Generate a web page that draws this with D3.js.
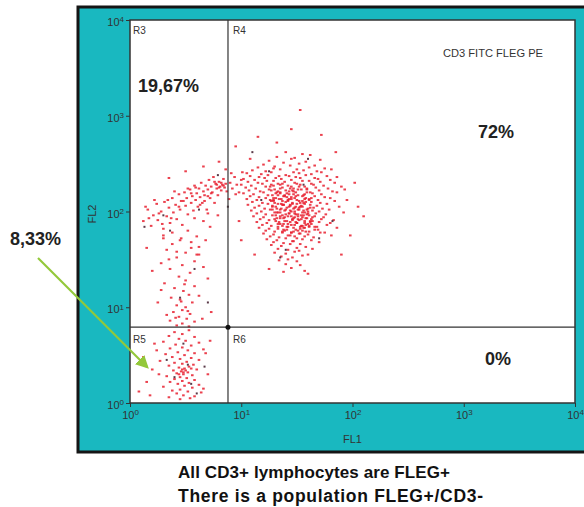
<!DOCTYPE html>
<html>
<head>
<meta charset="utf-8">
<script src="https://cdn.jsdelivr.net/npm/d3@7"></script>
<style>
  body { margin: 0; background: #fff; }
  svg { display: block; font-family: "Liberation Sans", Arial, sans-serif; }
</style>
</head>
<body>
<svg width="584" height="507"></svg>
<script>
// Axis ticks (both channels, log decades)
const tickValues = [1, 10, 100, 1000, 10000];

// Quadrant gate thresholds (FL1 / FL2)
const gateFL1 = 7.6;
const gateFL2 = 6.2;

// Region labels and percentages
const regionNames = ["R3", "R4", "R5", "R6"];
const regionPercents = ["19,67%", "72%", "8,33%", "0%"];

// Events as [log10 FL1, log10 FL2]
const r4Events = [
  [1.40,2.62],[1.55,2.60],[1.32,2.57],[1.62,2.59],[1.48,2.56],
  [1.25,2.53],[1.45,2.55],[1.58,2.52],[1.71,2.54],
  [1.20,2.49],[1.38,2.51],[1.52,2.50],[1.66,2.48],[1.30,2.47],
  [1.15,2.46],[1.29,2.45],[1.44,2.48],[1.61,2.46],[1.75,2.45],[1.50,2.44],
  [1.10,2.43],[1.22,2.42],[1.35,2.44],[1.47,2.41],[1.56,2.43],[1.68,2.42],[1.81,2.44],
  [1.05,2.40],[1.18,2.39],[1.27,2.41],[1.40,2.38],[1.52,2.40],[1.63,2.39],[1.72,2.41],[1.34,2.37],
  [1.08,2.37],[1.16,2.36],[1.24,2.38],[1.31,2.35],[1.43,2.37],[1.49,2.36],[1.58,2.38],[1.66,2.35],[1.77,2.37],[1.86,2.36],
  [1.02,2.34],[1.12,2.33],[1.21,2.35],[1.29,2.32],[1.36,2.34],[1.45,2.33],[1.53,2.35],[1.61,2.32],[1.69,2.34],[1.80,2.33],
  [1.06,2.31],[1.15,2.30],[1.23,2.32],[1.33,2.29],[1.39,2.31],[1.48,2.30],[1.55,2.32],[1.63,2.29],[1.71,2.31],[1.84,2.30],[1.27,2.28],
  [1.00,2.28],[1.09,2.27],[1.19,2.29],[1.26,2.26],[1.35,2.28],[1.42,2.27],[1.50,2.29],[1.57,2.26],[1.65,2.28],[1.74,2.27],[1.90,2.26],
  [1.04,2.25],[1.13,2.24],[1.22,2.26],[1.30,2.23],[1.37,2.25],[1.44,2.24],[1.52,2.26],[1.59,2.23],[1.67,2.25],[1.78,2.24],[1.46,2.22],[1.33,2.21],
  [1.07,2.22],[1.17,2.21],[1.25,2.23],[1.32,2.20],[1.40,2.22],[1.47,2.21],[1.54,2.23],[1.62,2.20],[1.70,2.22],[1.82,2.21],[1.93,2.23],
  [1.02,2.19],[1.11,2.18],[1.20,2.20],[1.28,2.17],[1.35,2.19],[1.43,2.18],[1.49,2.20],[1.56,2.17],[1.64,2.19],[1.72,2.18],[1.86,2.20],[1.38,2.16],
  [1.08,2.16],[1.16,2.15],[1.24,2.17],[1.31,2.14],[1.39,2.16],[1.45,2.15],[1.51,2.17],[1.58,2.14],[1.66,2.16],[1.75,2.15],[1.43,2.13],[1.29,2.12],
  [1.05,2.13],[1.14,2.12],[1.22,2.14],[1.29,2.11],[1.36,2.13],[1.42,2.12],[1.48,2.14],[1.55,2.11],[1.61,2.13],[1.69,2.12],[1.80,2.14],[1.95,2.12],
  [1.10,2.10],[1.19,2.09],[1.27,2.11],[1.33,2.08],[1.40,2.10],[1.46,2.09],[1.52,2.11],[1.57,2.08],[1.63,2.10],[1.71,2.09],[1.84,2.11],[1.37,2.07],
  [1.06,2.07],[1.16,2.06],[1.24,2.08],[1.31,2.05],[1.38,2.07],[1.44,2.06],[1.50,2.08],[1.55,2.05],[1.62,2.07],[1.68,2.06],[1.77,2.08],[1.48,2.04],
  [1.12,2.04],[1.21,2.03],[1.28,2.05],[1.35,2.02],[1.41,2.04],[1.47,2.03],[1.53,2.05],[1.59,2.02],[1.65,2.04],[1.73,2.03],[1.88,2.05],[1.56,2.01],
  [1.09,2.01],[1.18,2.00],[1.26,2.02],[1.33,1.99],[1.39,2.01],[1.45,2.00],[1.51,2.02],[1.57,1.99],[1.64,2.01],[1.70,2.00],[1.79,2.02],[1.60,1.98],
  [1.14,1.98],[1.22,1.97],[1.30,1.99],[1.37,1.96],[1.43,1.98],[1.49,1.97],[1.55,1.99],[1.61,1.96],[1.67,1.98],[1.76,1.97],[1.92,1.99],
  [1.11,1.95],[1.20,1.94],[1.28,1.96],[1.35,1.93],[1.42,1.95],[1.48,1.94],[1.54,1.96],[1.59,1.93],[1.66,1.95],[1.74,1.94],[1.51,1.92],
  [1.17,1.92],[1.25,1.91],[1.32,1.93],[1.39,1.90],[1.46,1.92],[1.52,1.91],[1.58,1.93],[1.64,1.90],[1.72,1.92],[1.83,1.91],[1.62,1.89],
  [1.14,1.89],[1.23,1.88],[1.31,1.90],[1.38,1.87],[1.44,1.89],[1.50,1.88],[1.57,1.90],[1.63,1.87],[1.70,1.89],[1.80,1.88],
  [1.19,1.86],[1.27,1.85],[1.35,1.87],[1.42,1.84],[1.48,1.86],[1.54,1.85],[1.60,1.87],[1.68,1.84],[1.77,1.86],[1.56,1.83],
  [1.16,1.83],[1.25,1.82],[1.33,1.84],[1.41,1.81],[1.47,1.83],[1.53,1.82],[1.61,1.84],[1.69,1.81],[1.86,1.83],
  [1.22,1.80],[1.30,1.79],[1.38,1.81],[1.45,1.78],[1.51,1.80],[1.58,1.79],[1.66,1.81],[1.75,1.78],
  [1.20,1.77],[1.29,1.76],[1.37,1.78],[1.44,1.75],[1.52,1.77],[1.60,1.76],[1.71,1.78],[1.48,1.74],
  [1.26,1.74],[1.34,1.73],[1.42,1.75],[1.50,1.72],[1.57,1.74],[1.65,1.73],[1.81,1.75],
  [1.23,1.71],[1.32,1.70],[1.40,1.72],[1.47,1.69],[1.55,1.71],[1.63,1.70],
  [1.29,1.68],[1.38,1.67],[1.46,1.69],[1.53,1.66],[1.70,1.68],
  [1.27,1.65],[1.36,1.64],[1.44,1.66],[1.58,1.63],[1.50,1.62],
  [1.33,1.61],[1.42,1.60],[1.52,1.59],[1.64,1.61],
  [1.30,1.57],[1.40,1.56],[1.48,1.58],[1.60,1.55],
  [1.36,1.53],[1.46,1.52],[1.55,1.54],
  [1.34,1.49],[1.50,1.48],[1.42,1.50],
  [1.40,1.45],[1.53,1.44],[1.45,1.41],[1.38,1.37],[1.57,1.38],
  // dense core
  [1.27,2.22],[1.31,2.19],[1.35,2.24],[1.39,2.17],[1.43,2.21],[1.47,2.18],[1.51,2.23],[1.55,2.16],[1.59,2.20],[1.63,2.14],
  [1.26,2.12],[1.30,2.09],[1.34,2.13],[1.38,2.07],[1.42,2.11],[1.46,2.08],[1.50,2.12],[1.54,2.06],[1.58,2.10],[1.62,2.04],
  [1.28,2.02],[1.32,1.99],[1.36,2.03],[1.40,1.97],[1.44,2.01],[1.48,1.98],[1.52,2.02],[1.56,1.96],[1.60,2.00],[1.64,1.94],
  [1.30,1.92],[1.34,1.89],[1.38,1.93],[1.42,1.87],[1.46,1.91],[1.50,1.88],[1.54,1.92],[1.58,1.86],[1.62,1.90],[1.66,1.84],
  [1.33,1.82],[1.37,1.79],[1.41,1.84],[1.45,1.78],[1.49,1.81],[1.53,1.77],[1.57,1.83],[1.61,1.79],
  [1.29,2.27],[1.37,2.29],[1.45,2.26],[1.53,2.28],[1.41,2.15],[1.49,2.05],[1.45,1.95],[1.55,1.85],[1.35,1.95],[1.57,2.13],
  [1.29,2.14],[1.33,2.17],[1.37,2.11],[1.41,2.19],[1.45,2.13],[1.49,2.16],[1.53,2.09],[1.57,2.18],[1.61,2.12],
  [1.28,2.06],[1.32,2.03],[1.36,2.08],[1.40,2.02],[1.44,2.07],[1.48,2.00],[1.52,2.04],[1.56,2.09],[1.60,2.03],
  [1.31,1.96],[1.35,1.99],[1.39,1.94],[1.43,1.98],[1.47,1.93],[1.51,1.97],[1.55,1.94],[1.59,1.97],[1.63,1.92],
  [1.33,1.87],[1.37,1.85],[1.41,1.90],[1.45,1.86],[1.49,1.89],[1.53,1.84],[1.57,1.88],[1.61,1.85],
  [1.39,1.80],[1.47,1.79],[1.55,1.80],[1.43,2.05],[1.51,1.95],[1.35,2.20],[1.47,2.24],[1.59,2.24],
  // bridge to R3 and sparse outliers
  [0.90,2.30],[0.92,2.24],[0.94,2.36],[0.96,2.28],[0.98,2.20],[1.00,2.33],[0.91,2.40],[0.95,2.18],[0.89,2.13],[1.01,2.41],
  [1.15,2.78],[1.32,2.72],[1.53,3.06],[0.95,2.68],[1.45,2.86],[1.72,2.80],[1.08,2.55],[1.85,2.62],[2.02,2.30],[2.05,2.05],
  [1.98,1.75],[1.12,1.55],[1.60,1.35],[1.25,1.40],[0.98,1.90],[1.00,1.70],[1.90,1.55],[2.10,1.95]
];

const r3Events = [
  [0.12,1.90],[0.16,2.02],[0.19,1.85],[0.21,1.96],[0.24,2.08],[0.25,1.91],[0.28,2.00],[0.30,1.82],[0.31,2.10],[0.33,1.95],
  [0.35,2.04],[0.36,1.88],[0.38,2.14],[0.39,1.99],[0.41,2.07],[0.42,1.92],[0.44,2.18],[0.45,2.02],[0.46,2.11],[0.47,1.86],
  [0.49,2.20],[0.50,2.06],[0.51,2.14],[0.52,1.97],[0.54,2.23],[0.55,2.09],[0.56,2.16],[0.57,2.01],[0.58,2.27],[0.59,2.12],
  [0.60,2.19],[0.61,2.05],[0.62,2.24],[0.63,2.15],[0.64,2.30],[0.65,2.09],[0.66,2.21],[0.67,2.17],[0.68,2.27],[0.69,2.02],
  [0.70,2.23],[0.71,2.33],[0.72,2.14],[0.73,2.26],[0.74,2.20],[0.75,2.36],[0.76,2.09],[0.77,2.29],[0.78,2.24],[0.79,2.17],
  [0.80,2.31],[0.81,2.26],[0.82,2.22],[0.83,2.28],[0.84,2.34],[0.85,2.25],[0.86,2.29],[0.87,2.21],[0.84,2.27],[0.82,2.30],
  [0.80,2.25],[0.78,2.28],[0.76,2.31],[0.73,2.19],[0.70,2.16],[0.67,2.11],[0.63,2.07],[0.59,2.25],[0.55,2.19],[0.52,2.24],
  [0.48,2.11],[0.44,2.05],[0.40,2.21],[0.37,1.93],[0.34,2.12],[0.29,1.87],[0.26,1.98],[0.22,2.12],[0.17,1.93],[0.14,2.05],
  [0.30,1.72],[0.38,1.78],[0.45,1.70],[0.52,1.80],[0.60,1.74],[0.66,1.90],[0.72,1.84],[0.79,1.96],[0.55,1.62],[0.42,1.58],
  [0.62,1.55],[0.70,1.98],[0.58,1.93],[0.50,2.42],[0.66,2.47],[0.80,2.52],[0.35,2.35],[0.86,2.44],
  // column down to the gate
  [0.30,1.75],[0.46,1.72],[0.38,1.66],[0.55,1.68],[0.33,1.60],[0.50,1.57],[0.62,1.63],[0.42,1.52],[0.58,1.48],[0.28,1.46],
  [0.47,1.44],[0.36,1.40],[0.54,1.36],[0.66,1.42],[0.44,1.32],[0.50,1.28],[0.31,1.25],[0.58,1.22],[0.40,1.20],[0.48,1.17],
  [0.53,1.13],[0.37,1.10],[0.45,1.08],[0.56,1.05],[0.42,1.02],[0.50,1.00],[0.47,0.97],[0.39,0.95],[0.54,0.93],[0.44,0.90],
  [0.51,0.88],[0.36,0.86],[0.58,0.85],[0.47,0.83],[0.42,0.81],[0.53,0.80],[0.62,1.12],[0.70,1.30],[0.25,1.05],[0.20,1.38],
  [0.15,1.62],[0.73,0.95],[0.65,0.88],[0.33,0.92],[0.49,1.24],[0.46,1.06],[0.52,0.96],[0.41,0.89],[0.60,1.55],[0.35,1.50],
  [0.28,1.18],[0.68,1.70]
];

const r5Events = [
  [0.40,0.74],[0.47,0.72],[0.53,0.76],[0.35,0.70],[0.58,0.69],[0.44,0.67],[0.50,0.65],[0.30,0.64],[0.62,0.63],[0.41,0.61],
  [0.55,0.60],[0.47,0.58],[0.36,0.57],[0.52,0.55],[0.66,0.56],[0.43,0.53],[0.58,0.52],[0.32,0.51],[0.49,0.50],[0.38,0.48],
  [0.55,0.47],[0.45,0.46],[0.62,0.45],[0.27,0.44],[0.51,0.43],[0.40,0.42],[0.47,0.41],[0.57,0.40],[0.35,0.39],[0.53,0.38],
  [0.44,0.37],[0.49,0.36],[0.60,0.35],[0.39,0.34],[0.46,0.33],[0.52,0.32],[0.42,0.31],[0.48,0.30],[0.56,0.29],[0.33,0.28],
  [0.45,0.27],[0.51,0.26],[0.40,0.25],[0.58,0.24],[0.47,0.23],[0.36,0.22],[0.53,0.21],[0.43,0.20],[0.62,0.19],[0.49,0.18],
  [0.30,0.17],[0.56,0.16],[0.45,0.14],[0.38,0.13],[0.52,0.12],[0.64,0.11],[0.42,0.10],[0.48,0.08],[0.58,0.07],[0.35,0.06],
  [0.54,0.05],[0.45,0.04],[0.24,0.55],[0.20,0.35],[0.15,0.22],[0.12,0.48],[0.08,0.12],[0.18,0.08],[0.26,0.30],[0.22,0.62],
  [0.70,0.30],[0.68,0.52],[0.66,0.15],[0.72,0.65],[0.47,0.35],[0.50,0.34],[0.48,0.32],[0.44,0.30],[0.55,0.36]
];

// darker events scattered over the populations
const greyEvents = [
  [0.40,0.27],[0.52,0.40],[0.60,0.10],[0.55,0.20],[0.33,0.45],[0.48,0.62],[0.45,1.10],[0.58,1.40],[0.36,1.80],[0.30,1.96],
  [0.13,1.84],[0.62,2.02],[0.79,2.38],[0.88,2.05],[1.25,2.42],[1.60,2.55],[1.70,1.72],[1.82,1.90],[1.40,1.60],[1.18,2.12],
  [1.56,2.28],[1.10,2.62],[1.35,1.52],[0.70,1.05],[0.67,0.38]
];

const svg = d3.select("svg");

// plot box
const plotLeft = 130, plotRight = 575, plotTop = 20, plotBottom = 403;

const x = d3.scaleLog().domain([1, 1e4]).range([plotLeft, plotRight]);
const y = d3.scaleLog().domain([1, 1e4]).range([plotBottom, plotTop]);

// teal instrument frame
svg.append("rect")
    .attr("x", 78).attr("y", 7)
    .attr("width", 530).attr("height", 445)
    .attr("fill", "#19b8c0")
    .attr("stroke", "#151515")
    .attr("stroke-width", 3);

svg.append("rect")
    .attr("x", plotLeft).attr("y", plotTop)
    .attr("width", plotRight - plotLeft).attr("height", plotBottom - plotTop)
    .attr("fill", "#fff")
    .attr("stroke", "#333")
    .attr("stroke-width", 1.5);

// tick label as 10 with superscript exponent
function powerLabel(sel) {
    sel.text(null);
    sel.append("tspan").text("10");
    sel.append("tspan")
        .attr("dy", "-0.45em")
        .attr("font-size", "8px")
        .text(d => Math.round(Math.log10(d)));
}

const xAxis = svg.append("g")
    .attr("transform", `translate(0,${plotBottom})`)
    .call(d3.axisBottom(x).tickValues(tickValues).tickSize(4).tickPadding(4));
const yAxis = svg.append("g")
    .attr("transform", `translate(${plotLeft},0)`)
    .call(d3.axisLeft(y).tickValues(tickValues).tickSize(4).tickPadding(2));

[xAxis, yAxis].forEach(g => {
    g.select(".domain").remove();
    g.selectAll(".tick line").attr("stroke", "#333");
    g.selectAll(".tick text")
        .attr("fill", "#333")
        .attr("font-family", "Liberation Sans, Arial, sans-serif")
        .attr("font-size", "11px")
        .each(function() { d3.select(this).call(powerLabel); });
});
yAxis.selectAll(".tick text").attr("dy", "0.5em");

// axis titles
svg.append("text")
    .attr("x", (plotLeft + plotRight) / 2).attr("y", 443)
    .attr("text-anchor", "middle")
    .attr("font-size", "11px").attr("fill", "#333")
    .text("FL1");
svg.append("text")
    .attr("transform", "translate(96,214) rotate(-90)")
    .attr("text-anchor", "middle")
    .attr("font-size", "11px").attr("fill", "#333")
    .text("FL2");

// events
const plot = svg.append("g");
const allRed = r4Events.concat(r3Events, r5Events);

plot.selectAll(".ev")
    .data(allRed)
    .join("rect")
    .attr("class", "ev")
    .attr("x", d => x(10 ** d[0]) - 1.3)
    .attr("y", d => y(10 ** d[1]) - 1)
    .attr("width", 2.6)
    .attr("height", 2)
    .attr("fill", "#e8202f")
    .attr("opacity", 0.85);

plot.selectAll(".grey")
    .data(greyEvents)
    .join("rect")
    .attr("class", "grey")
    .attr("x", d => x(10 ** d[0]) - 1)
    .attr("y", d => y(10 ** d[1]) - 1)
    .attr("width", 2)
    .attr("height", 2)
    .attr("fill", "#5a3a48");

// quadrant gate
svg.append("line")
    .attr("x1", x(gateFL1)).attr("x2", x(gateFL1))
    .attr("y1", plotTop).attr("y2", plotBottom)
    .attr("stroke", "#333").attr("stroke-width", 1.2);
svg.append("line")
    .attr("x1", plotLeft).attr("x2", plotRight)
    .attr("y1", y(gateFL2)).attr("y2", y(gateFL2))
    .attr("stroke", "#333").attr("stroke-width", 1.2);
svg.append("circle")
    .attr("cx", x(gateFL1)).attr("cy", y(gateFL2))
    .attr("r", 2.5).attr("fill", "#111");

// region names
const namePos = [[plotLeft + 3, plotTop + 14], [x(gateFL1) + 5, plotTop + 14],
                 [plotLeft + 3, y(gateFL2) + 16], [x(gateFL1) + 5, y(gateFL2) + 16]];
regionNames.forEach((n, i) => {
    svg.append("text")
        .attr("x", namePos[i][0]).attr("y", namePos[i][1])
        .attr("font-size", "10px").attr("fill", "#333")
        .text(n);
});

// percentages
const pctPos = [[138, 92], [478, 138], [10, 245], [485, 365]];
regionPercents.forEach((p, i) => {
    svg.append("text")
        .attr("x", pctPos[i][0]).attr("y", pctPos[i][1])
        .attr("font-size", "18px").attr("font-weight", "bold").attr("fill", "#222")
        .text(p);
});

svg.append("text")
    .attr("x", 443).attr("y", 57)
    .attr("font-size", "10px").attr("fill", "#333")
    .attr("textLength", 100).attr("lengthAdjust", "spacingAndGlyphs")
    .text("CD3 FITC FLEG PE");

// green arrow pointing at R5
svg.append("defs").append("marker")
    .attr("id", "head")
    .attr("viewBox", "0 0 10 10")
    .attr("refX", 8).attr("refY", 5)
    .attr("markerWidth", 6).attr("markerHeight", 6)
    .attr("orient", "auto")
    .append("path")
    .attr("d", "M0,0 L10,5 L0,10 Z")
    .attr("fill", "#93c83a");

svg.append("line")
    .attr("x1", 38).attr("y1", 258)
    .attr("x2", 147).attr("y2", 367)
    .attr("stroke", "#93c83a").attr("stroke-width", 2.2)
    .attr("marker-end", "url(#head)");

// caption
const caption = [
    { text: "All CD3+ lymphocytes are FLEG+", size: 17, width: 272 },
    { text: "There is a population FLEG+/CD3-", size: 17.5, width: 305 }
];
caption.forEach((c, i) => {
    svg.append("text")
        .attr("x", 178).attr("y", 478 + i * 24)
        .attr("font-size", c.size + "px").attr("font-weight", "bold").attr("fill", "#111")
        .attr("textLength", c.width).attr("lengthAdjust", "spacing")
        .text(c.text);
});
</script>
</body>
</html>
